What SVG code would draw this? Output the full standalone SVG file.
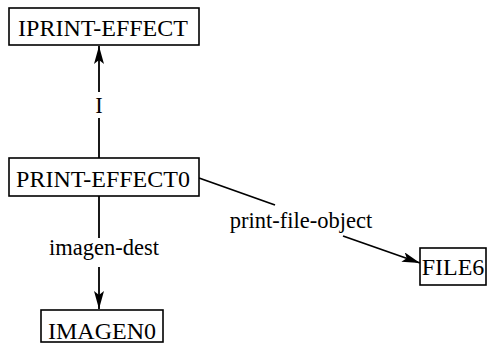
<svg xmlns="http://www.w3.org/2000/svg" width="497" height="351" viewBox="0 0 497 351">
<style>
.box{fill:#fff;stroke:#000;stroke-width:1.6}
.nt{font-family:"Liberation Serif","Times New Roman",serif;font-size:24px;fill:#000;text-anchor:middle}
.lt{font-family:"Liberation Serif","Times New Roman",serif;font-size:22.5px;fill:#000;text-anchor:middle}
.edge{stroke:#000;stroke-width:1.8;fill:none}
</style>
<defs>
<marker id="ah" viewBox="0 0 18 10" refX="18" refY="5" markerWidth="18" markerHeight="10" markerUnits="userSpaceOnUse" orient="auto">
<path d="M0,0 L18,5 L0,10 L4,5 Z" fill="#000"/>
</marker>
</defs>
<g id="connectors">
<line class="edge" x1="99" y1="92" x2="99" y2="46" marker-end="url(#ah)"/>
<line class="edge" x1="99" y1="118" x2="99" y2="158"/>
<text class="lt" x="99" y="113">I</text>
<line class="edge" x1="99" y1="196" x2="99" y2="238"/>
<line class="edge" x1="99" y1="267" x2="99" y2="309" marker-end="url(#ah)"/>
<text class="lt" x="104" y="255">imagen-dest</text>
<line class="edge" x1="199" y1="178" x2="275" y2="205"/>
<line class="edge" x1="343" y1="236" x2="420" y2="263" marker-end="url(#ah)"/>
<text class="lt" x="301" y="228">print-file-object</text>
</g>
<g id="IPRINT-EFFECT">
<rect class="box" x="9" y="8" width="190" height="37"/>
<text class="nt" x="103" y="36">IPRINT-EFFECT</text>
</g>
<g id="PRINT-EFFECT0">
<rect class="box" x="9" y="158" width="190" height="38"/>
<text class="nt" x="103" y="187">PRINT-EFFECT0</text>
</g>
<g id="IMAGEN0">
<rect class="box" x="41" y="310" width="122" height="32"/>
<text class="nt" x="102" y="339">IMAGEN0</text>
</g>
<g id="FILE6">
<rect class="box" x="420" y="248" width="66" height="37"/>
<text class="nt" x="453" y="275">FILE6</text>
</g>
</svg>
